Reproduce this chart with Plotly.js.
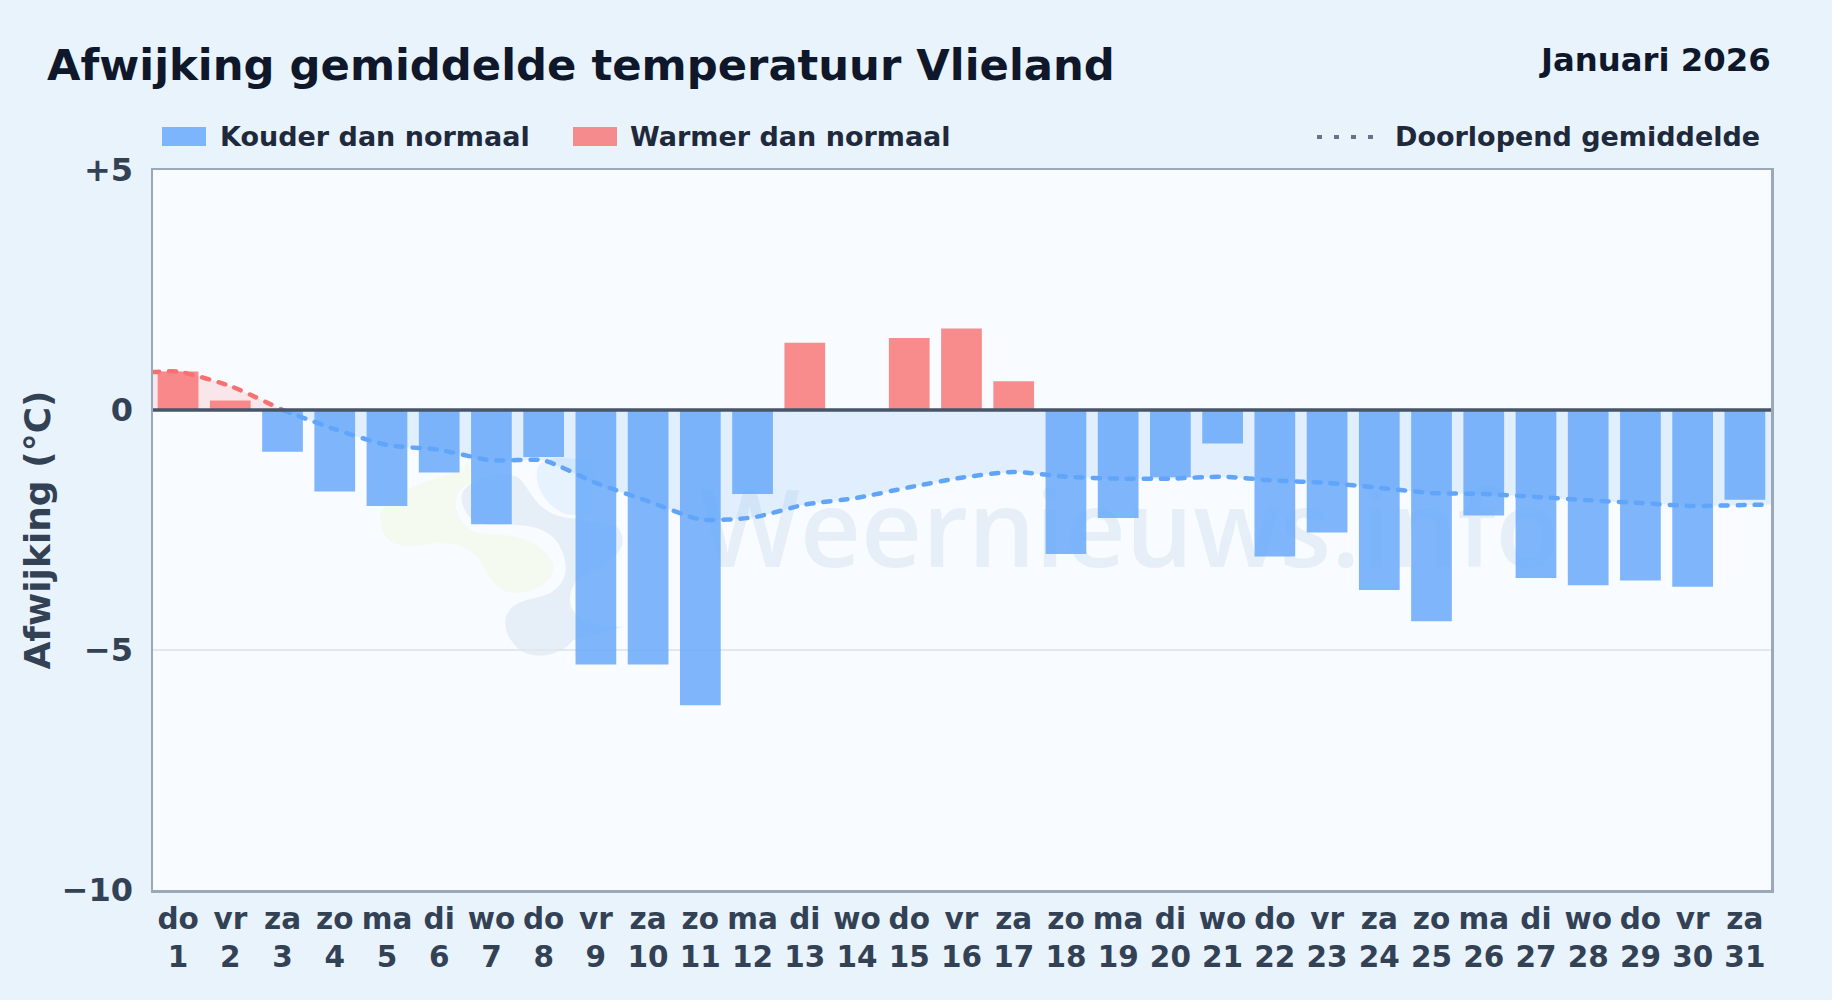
<!DOCTYPE html>
<html><head><meta charset="utf-8">
<script src="https://cdn.plot.ly/plotly-3.0.1.min.js"></script>
<style>
html,body{margin:0;padding:0;background:#e8f3fc;}
#chart{width:1832px;height:1000px;}
.scatterlayer .js-line{stroke-linecap:round;}
</style></head><body><div id="chart"></div>
<script>
const days=[1,2,3,4,5,6,7,8,9,10,11,12,13,14,15,16,17,18,19,20,21,22,23,24,25,26,27,28,29,30,31];
const weekdays=['do','vr','za','zo','ma','di','wo','do','vr','za','zo','ma','di','wo','do','vr','za','zo','ma','di','wo','do','vr','za','zo','ma','di','wo','do','vr','za'];
const deviation=[0.8,0.2,-0.87,-1.7,-2.0,-1.3,-2.38,-0.98,-5.3,-5.3,-6.15,-1.75,1.4,0,1.5,1.7,0.6,-3.0,-2.25,-1.4,-0.7,-3.05,-2.55,-3.75,-4.4,-2.2,-3.5,-3.65,-3.55,-3.68,-1.87];
const warmRunX=[0.5,1,2,3];
const warmRunY=[0.79,0.8,0.5,0];
const coldRunX=[3,4,5,6,7,8,9,10,11,12,13,14,15,16,17,18,19,20,21,22,23,24,25,26,27,28,29,30,31,31.5];
const coldRunY=[0,-0.4,-0.73,-0.83,-1.05,-1.05,-1.52,-1.9,-2.28,-2.24,-1.97,-1.83,-1.61,-1.41,-1.29,-1.39,-1.43,-1.43,-1.39,-1.47,-1.52,-1.62,-1.73,-1.75,-1.81,-1.88,-1.94,-2.0,-1.98,-1.97];
const yTickVals=[5,0,-5,-10];
const yTickText=['+5','0','−5','−10'];
const FONT='"DejaVu Sans", sans-serif';
const W=1832,H=1000,PL=153,PR=1771,PT=170,PB=890;
const px=x=>(x-PL)/(PR-PL), py=y=>(PB-y)/(PB-PT);
// logo path given in crop pixels of the watermark, converted to paper coordinates
function logo(d){return d.replace(/(-?\d+\.?\d*),(-?\d+\.?\d*)/g,(m,a,b)=>{
  return px(360+(+a)/3).toFixed(5)+','+py(440+(+b)/3).toFixed(5);});}
const coldDays=days.filter((d,i)=>deviation[i]<0), coldVals=deviation.filter(v=>v<0);
const warmDays=days.filter((d,i)=>deviation[i]>0), warmVals=deviation.filter(v=>v>0);
const traces=[
 {type:'bar',name:'Kouder dan normaal',x:coldDays,y:coldVals,width:0.78,marker:{color:'rgba(96,165,250,0.8)',line:{width:0}}},
 {type:'bar',name:'Warmer dan normaal',x:warmDays,y:warmVals,width:0.78,marker:{color:'rgba(248,113,113,0.8)',line:{width:0}}},
 {type:'scatter',mode:'lines',name:'Doorlopend gemiddelde',x:warmRunX,y:warmRunY,fill:'tozeroy',fillcolor:'rgba(248,113,113,0.15)',
  line:{color:'#f87171',width:4.5,dash:'7px,10px',shape:'spline',smoothing:0.6}},
 {type:'scatter',mode:'lines',name:'Doorlopend gemiddelde',x:coldRunX,y:coldRunY,fill:'tozeroy',fillcolor:'rgba(96,165,250,0.15)',
  line:{color:'#60a5fa',width:4.5,dash:'7px,10px',shape:'spline',smoothing:0.6}}
];
const txt=(text,x,y,size,color,anchor)=>({text,xref:'paper',yref:'paper',x:px(x),y:py(y),xanchor:anchor||'left',yanchor:'middle',showarrow:false,
  font:{family:FONT,size,color,weight:700}});
const layout={
 width:W,height:H,autosize:false,showlegend:false,barmode:'overlay',
 paper_bgcolor:'#e8f3fc',plot_bgcolor:'#f8fbff',
 margin:{l:PL,r:W-PR,t:PT,b:H-PB,pad:0},
 font:{family:FONT},
 xaxis:{range:[0.52,31.5],tickmode:'array',tickvals:days,ticktext:days.map((d,i)=>weekdays[i]+'<br>'+d),
   tickangle:0,ticks:'',showgrid:false,zeroline:false,showline:true,mirror:true,linecolor:'#9aa8ba',linewidth:2.5,ticklabelstandoff:1,
   tickfont:{family:FONT,size:29.5,color:'#334155',weight:700}},
 yaxis:{range:[-10,5],tickmode:'array',tickvals:yTickVals,ticktext:yTickText,ticks:'',ticklabelstandoff:11,
   showgrid:true,gridcolor:'#e2e8f0',gridwidth:1.5,zeroline:false,showline:true,mirror:true,linecolor:'#9aa8ba',linewidth:2.5,
   tickfont:{family:FONT,size:32,color:'#334155',weight:700},
   title:{text:'Afwijking (°C)',standoff:0,font:{family:FONT,size:36,color:'#334155',weight:700}}},
 shapes:[
  {type:'path',layer:'below',xref:'paper',yref:'paper',fillcolor:'#f5faf0',line:{width:0},
   path:logo('M60,230 C70,170 170,130 280,100 C310,90 325,70 325,50 L330,130 C280,150 260,220 340,275 C380,290 520,260 580,370 C590,420 530,455 470,460 C420,460 390,420 370,380 C340,320 290,310 230,310 C170,320 60,340 60,230 Z')},
  {type:'path',layer:'below',xref:'paper',yref:'paper',fillcolor:'#e6eff8',line:{width:0},
   path:logo('M305,170 C310,120 420,90 470,110 C510,130 520,230 640,235 L770,260 C810,300 780,360 700,390 C650,410 630,440 630,480 C630,530 690,560 790,560 L640,600 C600,650 520,660 480,630 C440,600 420,540 450,510 C470,480 520,480 570,460 C620,430 630,380 600,320 C570,260 500,250 400,255 C340,255 305,220 305,170 Z')},
  {type:'path',layer:'below',xref:'paper',yref:'paper',fillcolor:'#e6f3fe',line:{width:0},
   path:logo('M530,100 C530,70 560,50 620,55 L700,60 L700,225 L640,225 C590,225 530,170 530,100 Z')},
  {type:'rect',layer:'below',xref:'paper',yref:'paper',x0:px(702),x1:px(1558),y0:py(593),y1:py(473),fillcolor:'rgba(0,0,0,0)',line:{width:0},
   label:{text:'Weernieuws.info',textposition:'middle center',font:{family:'"Open Sans", sans-serif',size:106,color:'#e6eff8',weight:600}}},
  {type:'line',xref:'paper',yref:'y',x0:0,x1:1,y0:0,y1:0,line:{color:'#475569',width:3.3},layer:'above'},
  {type:'rect',xref:'paper',yref:'paper',x0:px(162),x1:px(206),y0:py(146),y1:py(127),fillcolor:'rgba(96,165,250,0.8)',line:{width:0}},
  {type:'rect',xref:'paper',yref:'paper',x0:px(573),x1:px(617),y0:py(146),y1:py(127),fillcolor:'rgba(248,113,113,0.8)',line:{width:0}},
  {type:'line',xref:'paper',yref:'paper',x0:px(1317),x1:px(1375),y0:py(137),y1:py(137),line:{color:'#64748b',width:4,dash:'5px,12px'}}
 ],
 annotations:[
  txt('Afwijking gemiddelde temperatuur Vlieland',45,65,43.3,'#0f172a'),
  txt('Januari 2026',1773,60,32.3,'#0f172a','right'),
  txt('Kouder dan normaal',217.5,137,27,'#1e293b'),
  txt('Warmer dan normaal',628,137,27,'#1e293b'),
  txt('Doorlopend gemiddelde',1762,137,27,'#1e293b','right')
 ]
};
Plotly.newPlot('chart',traces,layout,{displayModeBar:false,staticPlot:true});
</script></body></html>
